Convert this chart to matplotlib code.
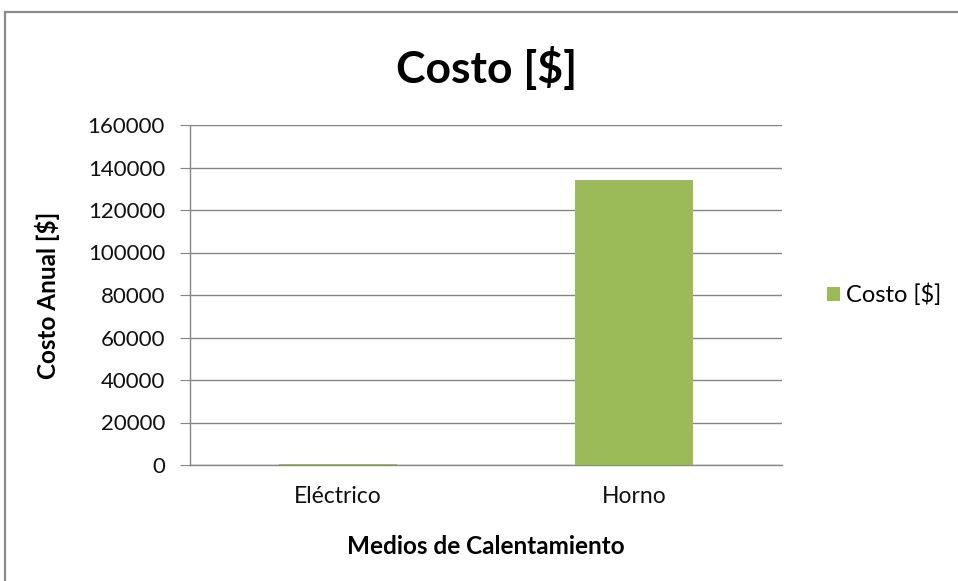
import matplotlib
matplotlib.use("Agg")
import matplotlib.pyplot as plt
from matplotlib.patches import Rectangle

categories = ["Eléctrico", "Horno"]
costo = [700, 134000]
y_ticks = [0, 20000, 40000, 60000, 80000, 100000, 120000, 140000, 160000]

title = "Costo [$]"
x_label = "Medios de Calentamiento"
y_label = "Costo Anual [$]"
series_name = "Costo [$]"

bar_color = "#9BBB59"
grid_color = "#868686"
font = ["Lato", "DejaVu Sans"]

plt.rcParams["font.family"] = font

W, H = 958, 581
fig = plt.figure(figsize=(W / 100, H / 100), dpi=100)
fig.patch.set_facecolor("white")

# chart frame (open on the right and bottom edges)
fig.add_artist(Rectangle((4.5 / W, -0.05), 1.2, 1 - 11.5 / H + 0.05,
                         transform=fig.transFigure, fill=False,
                         edgecolor="#8a8a8a", linewidth=1.6))

ax = fig.add_axes([190 / W, (H - 465) / H, (782 - 190) / W, (465 - 125) / H])
x = list(range(len(categories)))
bars = ax.bar(x, costo, width=0.4, color=bar_color, label=series_name, zorder=3)

ax.set_xlim(-0.5, len(categories) - 0.5)
ax.set_ylim(0, 160000)
ax.set_yticks(y_ticks)
ax.set_yticklabels([str(v) for v in y_ticks], fontsize=16, color="#111111")
ax.set_xticks(x)
ax.set_xticklabels(categories, fontsize=16.5, color="#111111")

ax.yaxis.grid(True, color=grid_color, linewidth=1.0, zorder=0)
ax.set_axisbelow(True)
for side in ("top", "right"):
    ax.spines[side].set_visible(False)
for side in ("left", "bottom"):
    ax.spines[side].set_color(grid_color)
    ax.spines[side].set_linewidth(1.0)
ax.tick_params(axis="y", length=7, color=grid_color, pad=11)
ax.tick_params(axis="x", length=0, pad=15)

ax.set_xlabel(x_label, fontsize=17.5, fontweight="bold", labelpad=20)
ax.set_ylabel(y_label, fontsize=17.5, fontweight="bold", labelpad=20)

fig.text(487 / W, 1 - 68 / H, title, ha="center", va="center",
         fontsize=32, fontweight="bold", color="black")

ax.legend(loc="center left", bbox_to_anchor=(1.04, 0.5), frameon=False,
          fontsize=17, handlelength=0.55, handleheight=0.55, handletextpad=0.25)

fig.savefig("out.png", dpi=100)
